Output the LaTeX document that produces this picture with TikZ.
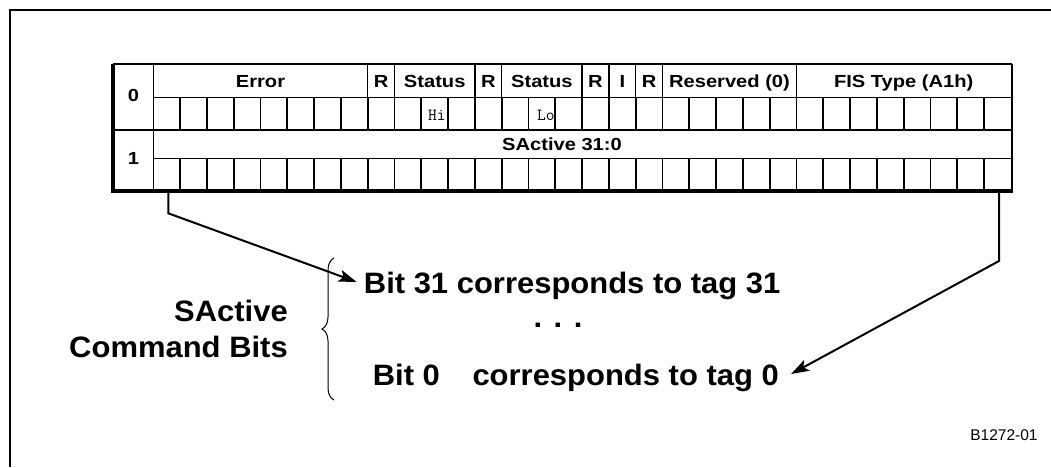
\documentclass[tikz,border=0pt]{standalone}
\usepackage{fontspec}
\setmainfont{Liberation Sans}
\newfontfamily\hdrfont{Liberation Sans}[FakeStretch=1.15]
\newfontfamily\capfont{Liberation Sans}[FakeStretch=1.05]
\usetikzlibrary{arrows.meta,decorations.pathreplacing}

\begin{document}
\begin{tikzpicture}[x=1pt,y=-1pt,
  frame/.style={line width=2pt},
  cellline/.style={line width=1.8pt},
  hdrline/.style={line width=1.4pt},
  thinline/.style={line width=1pt},
  hdr/.style={font=\hdrfont\bfseries\fontsize{17.5}{18}\selectfont, inner sep=0pt, anchor=base},
  big/.style={font=\capfont\bfseries\fontsize{29.5}{30}\selectfont, inner sep=0pt},
  mono/.style={font=\ttfamily\fontsize{17}{17}\selectfont, inner sep=0pt, anchor=base west},
  arrowline/.style={line width=2pt, -{Stealth[length=18pt,width=12pt,inset=4pt]}},
]
\useasboundingbox (0,0) rectangle (1051,467);

% open frame: top and left edges
\draw[frame] (1051,10) -- (10,10) -- (10,467);

% mono labels in the status cells (grid lines are drawn over them)
\node[mono] (hi) at (428,120) {Hi};
\node[mono] (lo) at (537,120) {Lo};

% table outline
\draw[line width=1.2pt] (113,64) -- (1011.5,64);
\draw[line width=2pt] (1011.5,64) -- (1011.5,193);
\draw[line width=4pt] (113,63.5) -- (113,193);
\draw[line width=4pt] (111,191) -- (1012.5,191);
\draw[hdrline] (153.3,64) -- (153.3,191);
\draw[line width=2.5pt] (113,130) -- (1011.5,130);
\draw[thinline] (153.3,97) -- (1011.5,97);
\draw[thinline] (153.3,158) -- (1011.5,158);

% bit cells of both rows
\foreach \k in {1,...,31} {
  \draw[cellline] ({153.3+\k*26.8},97) -- ++(0,33);
  \draw[cellline] ({153.3+\k*26.8},158) -- ++(0,33);
}
% field dividers of the first header row
\foreach \k in {8,9,12,13,16,17,18,19,24}
  \draw[hdrline] ({153.3+\k*26.8},64) -- ++(0,33);

% row numbers
\node[hdr] (row0) at (133.5,101.5) {0};
\node[hdr] (row1) at (133.5,164) {1};

% field names, bit 31 on the left
\node[hdr] (err)  at ({153.3+4*26.8},87.5)    {Error};
\node[hdr] (rsv1) at ({153.3+8.5*26.8},87.5)  {R};
\node[hdr] (sthi) at ({153.3+10.5*26.8},87.5) {Status};
\node[hdr] (rsv2) at ({153.3+12.5*26.8},87.5) {R};
\node[hdr] (stlo) at ({153.3+14.5*26.8},87.5) {Status};
\node[hdr] (rsv3) at ({153.3+16.5*26.8},87.5) {R};
\node[hdr] (ibit) at ({153.3+17.5*26.8},87.5) {I};
\node[hdr] (rsv4) at ({153.3+18.5*26.8},87.5) {R};
\node[hdr] (resv) at ({153.3+21.5*26.8},87.5) {Reserved (0)};
\node[hdr] (fis)  at ({153.3+28*26.8},87.5)   {FIS Type (A1h)};
\node[hdr] (sact) at (562,150.5) {SActive 31:0};

% explanation text
\node[big, anchor=base west] (line1) at (363.7,293) {Bit 31 corresponds to tag 31};
\node[big, anchor=base] (dots) at (558,327) {. . .};
\node[big, anchor=base west] (line2) at (372.6,385) {Bit 0\hspace{24pt} corresponds to tag 0};
\node[big, anchor=base east] (lbl1) at (288,321.7) {SActive};
\node[big, anchor=base east] (lbl2) at (288,357) {Command Bits};

% brace grouping the two lines
\draw[line width=1pt, decorate, decoration={brace, amplitude=12pt}]
  (334,400) -- (334,258);

% connectors from bit 31 and bit 0
\coordinate (b31) at (168.3,193);
\coordinate (k31) at (168.3,213.3);
\coordinate (b0)  at (999,193);
\coordinate (k0)  at (999,261);
\draw[arrowline] (b31) -- (k31) -- ([xshift=-7pt,yshift=11pt]line1.base west);
\draw[arrowline] (b0) -- (k0) -- ([xshift=12pt,yshift=11pt]line2.base east);

% figure number
\node[font=\fontsize{15.5}{16}\selectfont, inner sep=0pt, anchor=base] (fignum) at (1004,440) {B1272-01};
\end{tikzpicture}
\end{document}
